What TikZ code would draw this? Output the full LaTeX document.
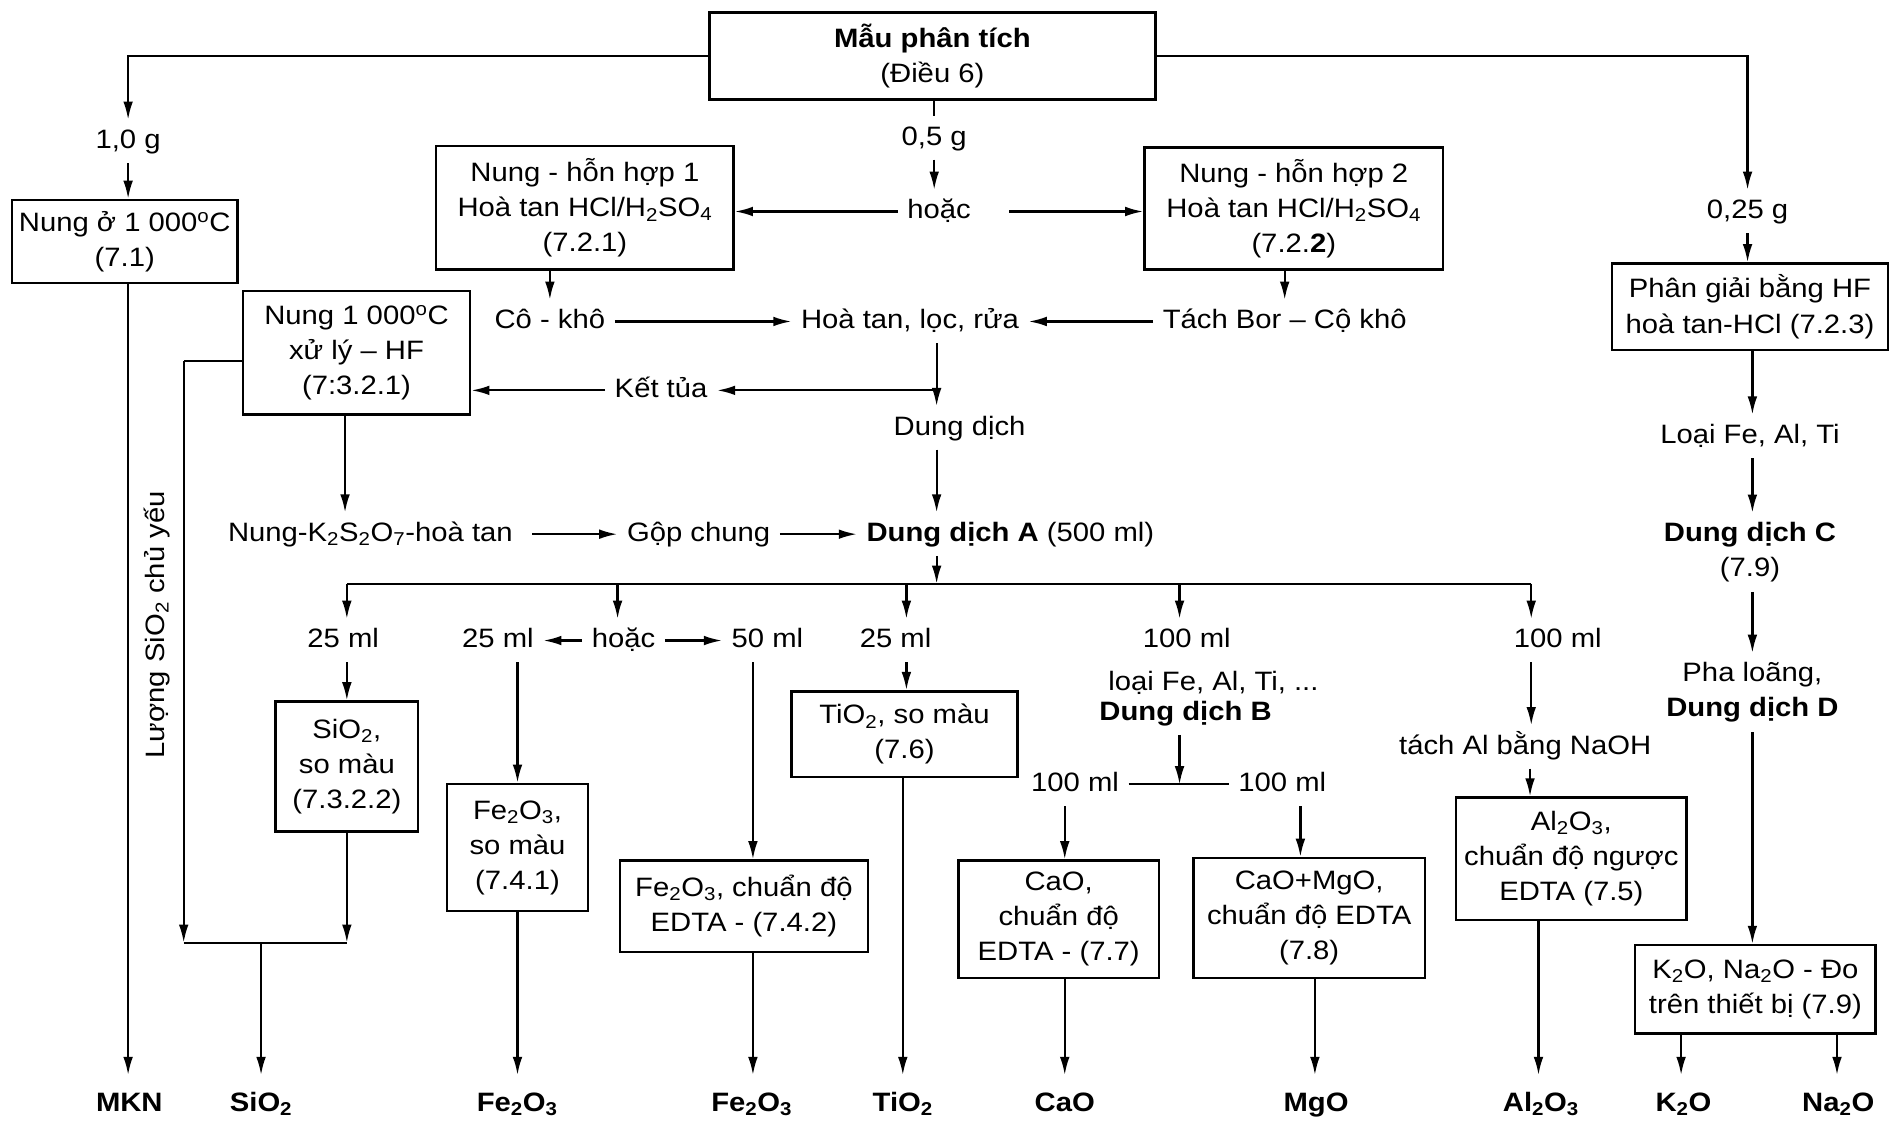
\documentclass[tikz,border=0pt]{standalone}
\usepackage{fontspec}
\setmainfont{Liberation Sans}[FakeStretch=1.1]
\usetikzlibrary{arrows.meta,calc}
\newcommand\ssb[1]{\textsubscript{#1}}
\newcommand\dg{\textsuperscript{o}}
\begin{document}
\begin{tikzpicture}[x=1pt,y=-1pt,
  every node/.style={font=\fontsize{22}{29}\selectfont},
  box/.style={draw,line width=2pt,align=center,inner sep=0pt},
  lbl/.style={inner sep=2pt,outer sep=6pt,text height=16pt,text depth=4pt},
  lblm/.style={inner sep=2pt,outer sep=6pt,align=center},
  res/.style={inner sep=2pt,outer sep=12pt,text height=16pt,text depth=3pt,font=\fontsize{22}{29}\selectfont\bfseries},
  arr/.style={line width=1.8pt,-{Latex[length=15pt,width=8pt]}},
  ln/.style={line width=1.8pt}]
\useasboundingbox (0,0) rectangle (1568,928);

% ---------- boxes ----------
\node[box,line width=2.6pt,minimum width=369pt,minimum height=71.5pt] (T) at (771.5,46.25) {\textbf{Mẫu phân tích}\\(Điều 6)};
\node[box,minimum width=186.5pt,minimum height=68.5pt] (B71) at (103.25,199.75) {Nung ở 1~000\dg C\\(7.1)};
\node[box,minimum width=246pt,minimum height=102pt] (B721) at (484,172) {Nung - hỗn hợp 1\\Hoà tan HCl/H\ssb{2}SO\ssb{4}\\(7.2.1)};
\node[box,minimum width=247pt,minimum height=101pt] (B722) at (1070.5,172.5) {Nung - hỗn hợp 2\\Hoà tan HCl/H\ssb{2}SO\ssb{4}\\(7.2.\textbf{2})};
\node[box,minimum width=188pt,minimum height=102pt] (B3221) at (295,292) {Nung 1~000\dg C\\xử lý -- HF\\(7:3.2.1)};
\node[box,minimum width=228pt,minimum height=71.6pt] (B723) at (1448,253.8) {Phân giải bằng HF\\hoà tan-HCl (7.2.3)};
\node[box,minimum width=118pt,minimum height=107.5pt] (BSi) at (287,634.25) {SiO\ssb{2},\\so màu\\(7.3.2.2)};
\node[box,minimum width=116.3pt,minimum height=105.3pt] (BFe1) at (428.2,701.3) {Fe\ssb{2}O\ssb{3},\\so màu\\(7.4.1)};
\node[box,minimum width=205pt,minimum height=75.5pt] (BFe2) at (615.5,749.75) {Fe\ssb{2}O\ssb{3}, chuẩn độ\\EDTA - (7.4.2)};
\node[box,minimum width=187.2pt,minimum height=71pt] (BTi) at (748.4,607.5) {TiO\ssb{2}, so màu\\(7.6)};
\node[box,minimum width=165.5pt,minimum height=97pt] (BCa) at (876,760.5) {CaO,\\chuẩn độ\\EDTA - (7.7)};
\node[box,minimum width=191.5pt,minimum height=99pt] (BMg) at (1083.25,759.5) {CaO+MgO,\\chuẩn độ EDTA\\(7.8)};
\node[box,minimum width=190.8pt,minimum height=101pt] (BAl) at (1300.2,710.5) {Al\ssb{2}O\ssb{3},\\chuẩn độ ngược\\EDTA (7.5)};
\node[box,minimum width=199pt,minimum height=73pt] (BK) at (1452.5,818.5) {K\ssb{2}O, Na\ssb{2}O - Đo\\trên thiết bị (7.9)};

% ---------- labels ----------
\node[lbl] (g10) at (106,117) {1,0 g};
\node[lbl] (g05) at (773,114) {0,5 g};
\node[lbl] (hoac1) at (777,175) {hoặc};
\node[lbl] (g025) at (1446,175) {0,25 g};
\node[lbl] (cokho) at (455,266) {Cô - khô};
\node[lbl] (hoatan) at (753,266) {Hoà tan, lọc, rửa};
\node[lbl] (tachbor) at (1063,266) {Tách Bor -- Cộ khô};
\node[lbl] (kettua) at (547,323) {Kết tủa};
\node[lbl] (dungdich) at (794,354) {Dung dịch};
\node[lbl] (nungk) at (306.5,442) {Nung-K\ssb{2}S\ssb{2}O\ssb{7}-hoà tan};
\node[lbl] (gop) at (578,442) {Gộp chung};
\node[lbl] (ddA) at (836,442) {\textbf{Dung dịch A} (500 ml)};
\node[lbl] (ml25a) at (284,530) {25 ml};
\node[lbl] (ml25b) at (412,530) {25 ml};
\node[lbl] (hoac2) at (516,530) {hoặc};
\node[lbl] (ml50) at (635,530) {50 ml};
\node[lbl] (ml25c) at (741,530) {25 ml};
\node[lbl] (ml100a) at (982,530) {100 ml};
\node[lbl] (loai) at (1004,565) {loại Fe, Al, Ti, ...};
\node[lbl] (ddB) at (981,590) {\textbf{Dung dịch B}};
\node[lbl] (ml100b) at (889.5,649) {100 ml};
\node[lbl] (ml100c) at (1061,649) {100 ml};
\node[lbl] (ml100d) at (1289,530) {100 ml};
\node[lbl] (tachAl) at (1262,618) {tách Al bằng NaOH};
\node[lbl] (loaiFe) at (1448,361) {Loại Fe, Al, Ti};
\node[lblm] (ddC) at (1448,457) {\textbf{Dung dịch C}\\(7.9)};
\node[lblm] (pha) at (1450,573) {Pha loãng,\\\textbf{Dung dịch D}};
\node[lbl,rotate=90] (luong) at (130,517) {Lượng SiO\ssb{2} chủ yếu};

% ---------- results ----------
\node[res] (rMKN) at (107,913) {MKN};
\node[res] (rSi) at (216,913) {SiO\ssb{2}};
\node[res] (rFe1) at (428,913) {Fe\ssb{2}O\ssb{3}};
\node[res] (rFe2) at (622,913) {Fe\ssb{2}O\ssb{3}};
\node[res] (rTi) at (747,913) {TiO\ssb{2}};
\node[res] (rCa) at (881,913) {CaO};
\node[res] (rMg) at (1089,913) {MgO};
\node[res] (rAl) at (1275,913) {Al\ssb{2}O\ssb{3}};
\node[res] (rK) at (1393,913) {K\ssb{2}O};
\node[res] (rNa) at (1521,913) {Na\ssb{2}O};

% ---------- helper coordinates ----------
\coordinate (vx) at (775,0);
\coordinate (busL) at (287,483);
\coordinate (busR) at (1267,483);
\coordinate (d2) at (511,483);
\coordinate (d3) at (750,483);
\coordinate (d4) at (976,483);
\coordinate (brT) at (152,299);
\coordinate (brB) at (152,780);
\coordinate (siR) at (287,780);
\coordinate (siM) at (216,780);
\coordinate (x50) at (623,0);
\coordinate (xCa) at (881,0);
\coordinate (xMg) at (1076,0);
\coordinate (xMg2) at (1088,0);
\coordinate (xAl) at (1266,0);
\coordinate (xAl2) at (1273,0);
\coordinate (xC) at (1450,0);
\coordinate (xK) at (1391,0);
\coordinate (xNa) at (1520,0);
\coordinate (xN) at (285.5,0);
\coordinate (xSplit) at (976,0);

% ---------- connectors ----------
\draw[arr] (T.west) -| (g10.north);
\draw[arr] (g10.south) -- (g10.south |- B71.north);
\draw[arr] (g10 |- B71.south) -- (g10 |- rMKN.north);
\draw[ln] (T.south -| g05) -- (g05.north);
\draw[arr] (g05.south) -- (g05.south |- hoac1.north);
\draw[arr] (hoac1.west) -- (hoac1.west -| B721.east);
\draw[arr,shorten <=24pt] (hoac1.east) -- (hoac1.east -| B722.west);
\draw[arr] (T.east) -| (g025.north);
\draw[arr] (g025.south) -- (g025.south |- B723.north);

\draw[arr] (cokho.north |- B721.south) -- (cokho.north);
\draw[arr] (cokho.east) -- (hoatan.west);
\draw[arr] (tachbor.north |- B722.south) -- (tachbor.north);
\draw[arr] (tachbor.west) -- (hoatan.east);
\draw[arr] (vx |- hoatan.south) -- (vx |- dungdich.north);
\draw[arr] (vx |- kettua.east) -- (kettua.east);
\draw[arr] (kettua.west) -- (kettua.west -| B3221.east);
\draw[arr] (vx |- dungdich.south) -- (vx |- ddA.north);

\draw[arr] (xN |- B3221.south) -- (xN |- nungk.north);
\draw[arr,shorten <=8pt] (nungk.east) -- (gop.west);
\draw[arr] (gop.east) -- (ddA.west);
\draw[arr] (vx |- ddA.south) -- (vx |- busL);

\draw[ln] (busL) -- (busR);
\draw[arr] (busL) -- (busL |- ml25a.north);
\draw[arr] (d2) -- (d2 |- hoac2.north);
\draw[arr] (d3) -- (d3 |- ml25c.north);
\draw[arr] (d4) -- (d4 |- ml100a.north);
\draw[arr] (busR) -- (busR |- ml100d.north);
\draw[arr] (hoac2.west) -- (ml25b.east);
\draw[arr] (hoac2.east) -- (ml50.west);

% SiO2 column
\draw[arr] (busL |- ml25a.south) -- (busL |- BSi.north);
\draw[arr] (BSi.south) -- (siR);
\draw[ln] (brT -| B3221.west) -- (brT);
\draw[arr] (brT) -- (brB);
\draw[ln] (brB) -- (siR);
\draw[arr] (siM) -- (siM |- rSi.north);

% Fe2O3 columns
\draw[arr] (BFe1.north |- ml25b.south) -- (BFe1.north);
\draw[arr] (BFe1.south) -- (BFe1.south |- rFe1.north);
\draw[arr] (x50 |- ml50.south) -- (x50 |- BFe2.north);
\draw[arr] (x50 |- BFe2.south) -- (x50 |- rFe2.north);

% TiO2 column
\draw[arr] (d3 |- ml25c.south) -- (d3 |- BTi.north);
\draw[arr] (BTi.south -| rTi) -- (rTi.north);

% Dung dich B
\draw[arr] (xSplit |- ddB.south) -- (xSplit |- ml100b);
\draw[ln] (ml100b.east) -- (ml100c.west);
\draw[arr] (xCa |- ml100b.south) -- (xCa |- BCa.north);
\draw[arr] (xCa |- BCa.south) -- (xCa |- rCa.north);
\draw[arr] (xMg |- ml100c.south) -- (xMg |- BMg.north);
\draw[arr] (xMg2 |- BMg.south) -- (xMg2 |- rMg.north);

% Al column
\draw[arr] (busR |- ml100d.south) -- (busR |- tachAl.north);
\draw[arr] (xAl |- tachAl.south) -- (xAl |- BAl.north);
\draw[arr] (xAl2 |- BAl.south) -- (xAl2 |- rAl.north);

% right column
\draw[arr] (xC |- B723.south) -- (xC |- loaiFe.north);
\draw[arr] (xC |- loaiFe.south) -- (xC |- ddC.north);
\draw[arr] (xC |- ddC.south) -- (xC |- pha.north);
\draw[arr] (xC |- pha.south) -- (xC |- BK.north);
\draw[arr] (xK |- BK.south) -- (xK |- rK.north);
\draw[arr] (xNa |- BK.south) -- (xNa |- rNa.north);
\end{tikzpicture}
\end{document}
